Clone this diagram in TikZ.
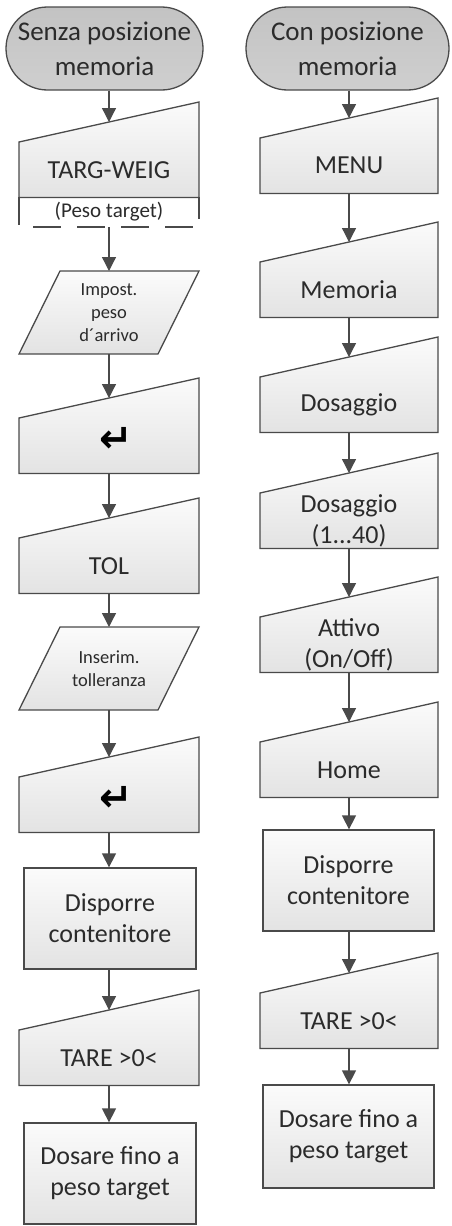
\documentclass[tikz,border=0pt]{standalone}
\usepackage{fontspec}
\setmainfont{Carlito}
\newfontfamily\symfont{DejaVu Sans}
\usetikzlibrary{arrows.meta,shapes.misc,calc}

\definecolor{edge}{HTML}{4A4A4A}
\definecolor{ink}{HTML}{2B2B2B}
\definecolor{boxtop}{HTML}{FBFBFB}
\definecolor{boxbot}{HTML}{E3E3E3}
\definecolor{termtop}{HTML}{C3C3C3}
\definecolor{termbot}{HTML}{CFCFCF}

% Manual-input step: slanted top, text in the rectangular part
% #1 name, #2 centre x, #3 y of the low (left) top corner, #4 half width, #5 text
\newcommand\keystep[5]{%
  \path[shapeline] (#2-#4,#3) -- (#2+#4,#3-40) -- (#2+#4,#3+55.5) -- (#2-#4,#3+55.5) -- cycle;
  \node[lbl] (#1) at (#2,#3+27.75) {#5};
  \coordinate (#1-in) at (#2,#3-20);
  \coordinate (#1-out) at (#2,#3+55.5);
}
% Data step: parallelogram
% #1 name, #2 centre x, #3 top y, #4 text
\newcommand\datastep[4]{%
  \path[shapeline] (#2-49,#3) -- (#2+90,#3) -- (#2+49,#3+83) -- (#2-90,#3+83) -- cycle;
  \node[small] (#1) at (#2,#3+41.5) {#4};
  \coordinate (#1-in) at (#2,#3);
  \coordinate (#1-out) at (#2,#3+83);
}

\begin{document}
\begin{tikzpicture}[x=1pt,y=-1pt,
  shapeline/.style={draw=edge, line width=1.3pt, top color=boxtop, bottom color=boxbot},
  lbl/.style={text=ink, align=center, font=\fontsize{26}{31}\selectfont, inner sep=0pt},
  small/.style={text=ink, align=center, font=\fontsize{18.5}{23}\selectfont, inner sep=0pt},
  note/.style={text=ink, align=center, font=\fontsize{21}{25}\selectfont, inner sep=0pt},
  enterkey/.style={text=black, font=\symfont\bfseries\fontsize{40}{40}\selectfont, inner sep=0pt},
  terminal/.style={rounded rectangle, draw=edge, line width=1.3pt, top color=termtop,
    bottom color=termbot, text=ink, align=center, font=\fontsize{27}{35}\selectfont,
    minimum height=83pt, inner sep=0pt},
  process/.style={shapeline, rectangle, text=ink, align=center,
    font=\fontsize{26}{31}\selectfont, inner sep=0pt},
  flow/.style={draw=edge, line width=1.3pt, -{Triangle[length=14pt,width=14pt]}},
]
\useasboundingbox (0,0) rectangle (451,1226);

% ---------- left column: without memory position ----------
\node[terminal, minimum width=197pt] (t1) at (104.5,48.5) {Senza posizione\\memoria};
\keystep{l1}{109}{142}{90}{TARG-WEIG}
\draw[draw=edge, line width=1.3pt] (19,197) -- (19,225) (199,197) -- (199,219);
\draw[draw=edge, line width=1.3pt, dash pattern=on 28pt off 16pt] (33,227) -- (193,227);
\node[note] (l1n) at (109,212) {(Peso target)};
\coordinate (l1n-out) at (109,227);
\datastep{l2}{109}{271}{Impost.\\peso\\d´arrivo}
\keystep{l3}{109}{418}{90}{\phantom{x}}
\node[enterkey] (l3k) at (116,440) {↵};
\keystep{l4}{109}{538}{90}{TOL}
\datastep{l5}{109}{627}{Inserim.\\tolleranza}
\keystep{l6}{109}{777}{90}{\phantom{x}}
\node[enterkey] (l6k) at (116,799) {↵};
\node[process, minimum width=172pt, minimum height=101pt] (l7) at (110,918.5) {Disporre\\contenitore};
\keystep{l8}{109}{1030}{90}{TARE >0<}
\node[process, minimum width=172pt, minimum height=101pt] (l9) at (110,1173.5) {Dosare fino a\\peso target};

\draw[flow] (t1.south -| l1-in) -- (l1-in);
\draw[flow] (l1n-out) -- (l2-in);
\draw[flow] (l2-out) -- (l3-in);
\draw[flow] (l3-out) -- (l4-in);
\draw[flow] (l4-out) -- (l5-in);
\draw[flow] (l5-out) -- (l6-in);
\draw[flow] (l6-out) -- (l7.north -| l6-out);
\draw[flow] (l7.south -| l8-in) -- (l8-in);
\draw[flow] (l8-out) -- (l9.north -| l8-out);

% ---------- right column: with memory position ----------
\node[terminal, minimum width=203pt] (t2) at (347.5,48.5) {Con posizione\\memoria};
\keystep{r1}{349}{138}{89}{MENU}
\keystep{r2}{349}{262}{89}{Memoria}
\keystep{r3}{349}{377}{89}{Dosaggio}
\keystep{r4}{349}{493}{89}{Dosaggio\\(1...40)}
\keystep{r5}{349}{617}{89}{Attivo\\(On/Off)}
\keystep{r6}{349}{742}{89}{Home}
\node[process, minimum width=171pt, minimum height=101pt] (r7) at (348.5,880.5) {Disporre\\contenitore};
\keystep{r8}{349}{993}{89}{TARE >0<}
\node[process, minimum width=171pt, minimum height=103pt] (r9) at (348.5,1136.5) {Dosare fino a\\peso target};

\draw[flow] (t2.south -| r1-in) -- (r1-in);
\draw[flow] (r1-out) -- (r2-in);
\draw[flow] (r2-out) -- (r3-in);
\draw[flow] (r3-out) -- (r4-in);
\draw[flow] (r4-out) -- (r5-in);
\draw[flow] (r5-out) -- (r6-in);
\draw[flow] (r6-out) -- (r7.north -| r6-out);
\draw[flow] (r7.south -| r8-in) -- (r8-in);
\draw[flow] (r8-out) -- (r9.north -| r8-out);
\end{tikzpicture}
\end{document}
